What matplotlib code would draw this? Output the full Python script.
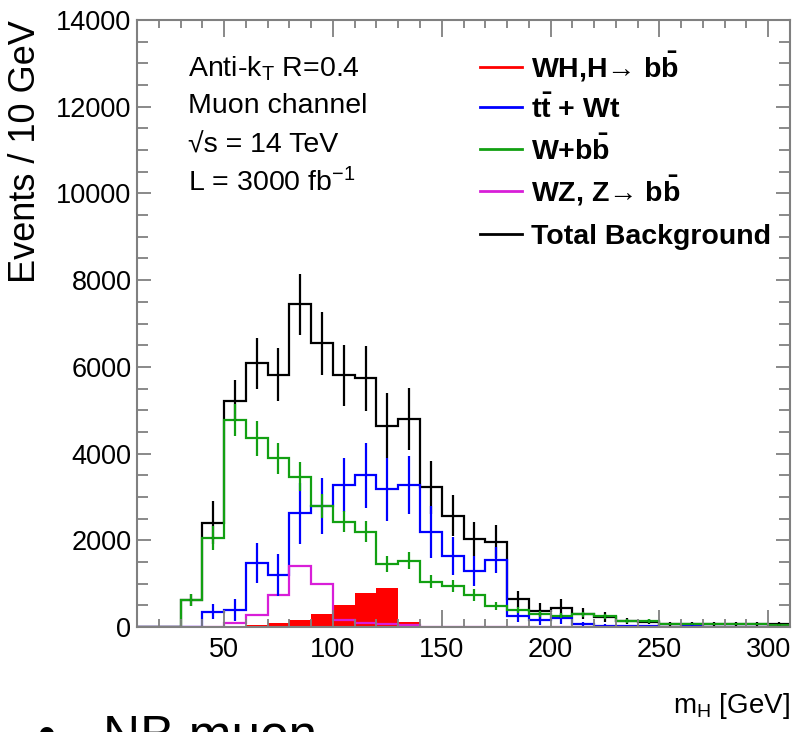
import numpy as np
import matplotlib
matplotlib.use("Agg")
import matplotlib.pyplot as plt
from matplotlib.ticker import MultipleLocator

plt.rcParams['font.family'] = ['Liberation Sans', 'DejaVu Sans']
plt.rcParams['mathtext.fontset'] = 'custom'
plt.rcParams['mathtext.rm'] = 'Liberation Sans'
plt.rcParams['mathtext.it'] = 'Liberation Sans:italic'
plt.rcParams['mathtext.bf'] = 'Liberation Sans:bold'

# m_H binning: 10 GeV bins from 10 to 310 GeV
edges = np.arange(10, 311, 10)
centers = edges[:-1] + 5

# WH, H->bb signal
wh_sig = [0, 0, 0, 0, 20, 50, 90, 170, 290, 510, 790, 890, 110,
          0, 0, 0, 0, 0, 0, 0, 0, 0, 0, 0, 0, 0, 0, 0, 0, 0]

# ttbar + Wt
ttbar = [0, 0, 0, 350, 390, 1470, 1200, 2620, 2790, 3275, 3500, 3175, 3275,
         2185, 1640, 1290, 1545, 250, 170, 200, 60, 30, 20, 20, 10,
         50, 10, 5, 5, 0]
ttbar_err = [0, 0, 0, 175, 250, 460, 480, 710, 650, 615, 750, 730, 670,
             600, 440, 345, 310, 140, 130, 130, 60, 40, 30, 30, 20,
             40, 20, 10, 10, 0]

# W+bb
wbb = [0, 0, 620, 2050, 4770, 4350, 3890, 3470, 2790, 2430, 2200, 1450, 1530,
       1045, 945, 740, 480, 400, 300, 260, 290, 245, 140, 135, 60,
       60, 60, 60, 60, 55]
wbb_err = [0, 0, 135, 270, 375, 400, 360, 325, 270, 250, 250, 190, 190,
           155, 135, 135, 95, 70, 60, 60, 60, 50, 40, 40, 25,
           25, 25, 25, 25, 25]

# WZ, Z->bb
wz = [0, 0, 0, 10, 90, 285, 730, 1407, 990, 160, 85, 60, 50,
      0, 0, 0, 0, 0, 0, 0, 0, 0, 0, 0, 0, 0, 0, 0, 0, 0]

# total background
total = [0, 0, 620, 2406, 5220, 6085, 5820, 7440, 6540, 5805, 5735, 4643, 4797,
         3221, 2568, 2030, 1968, 635, 375, 430, 310, 236, 138, 122, 62,
         80, 62, 62, 62, 60]
total_err = [0, 0, 135, 500, 480, 590, 615, 702, 717, 700, 745, 750, 710,
             615, 480, 385, 375, 200, 180, 218, 120, 120, 60, 60, 45,
             45, 45, 45, 45, 45]

c_sig = '#ff0000'
c_tt = '#0000ff'
c_wbb = '#12a012'
c_wz = '#d81ed8'
c_tot = '#000000'
lw = 1.6

fig = plt.figure(figsize=(7.94, 7.32), dpi=100)
ax = fig.add_axes([137/794, 1-627/732, 653/794, 607/732])

ax.stairs(wh_sig, edges, fill=True, color=c_sig, lw=0)
ax.stairs(total, edges, color=c_tot, lw=lw)
ax.errorbar(centers, total, yerr=total_err, fmt='none', ecolor=c_tot, elinewidth=lw)
ax.stairs(ttbar, edges, color=c_tt, lw=lw)
ax.errorbar(centers, ttbar, yerr=ttbar_err, fmt='none', ecolor=c_tt, elinewidth=lw)
ax.stairs(wbb, edges, color=c_wbb, lw=lw)
ax.errorbar(centers, wbb, yerr=wbb_err, fmt='none', ecolor=c_wbb, elinewidth=lw)
ax.stairs(wz, edges, color=c_wz, lw=lw)

ax.set_xlim(10, 310)
ax.set_ylim(0, 14000)
ax.xaxis.set_major_locator(MultipleLocator(50))
ax.xaxis.set_minor_locator(MultipleLocator(10))
ax.yaxis.set_major_locator(MultipleLocator(2000))
ax.yaxis.set_minor_locator(MultipleLocator(500))

axis_col = '#808080'
for sp in ax.spines.values():
    sp.set_color(axis_col)
    sp.set_linewidth(1.5)
ax.tick_params(which='both', direction='in', top=True, right=True,
               color=axis_col, width=1.3, labelsize=19.5)
ax.tick_params(axis='x', which='major', length=12, pad=7)
ax.tick_params(axis='x', which='minor', length=6)
ax.tick_params(axis='y', which='major', length=10, pad=4)
ax.tick_params(axis='y', which='minor', length=8)

fig.text(26/794, 1-20/732, "Events / 10 GeV", rotation=90,
         ha='center', va='top', fontsize=26)
fig.text(790/794, 1-706/732, r"m$_\mathrm{H}$ [GeV]", ha='right', va='center',
         fontsize=20)

# analysis info
info = [r"Anti-k$_\mathrm{T}$ R=0.4", "Muon channel", "\u221as = 14 TeV",
        r"L = 3000 fb$^\mathrm{-1}$"]
info_y = [0.907, 0.846, 0.781, 0.718]
for txt, yy in zip(info, info_y):
    ax.text(0.078, yy, txt, transform=ax.transAxes, fontsize=20.5,
            va='baseline', ha='left')

# legend drawn row by row
leg_labels = ["WH,H\u2192 b$\\mathbf{\\bar{b}}$",
              r"$\mathbf{t\bar{t}}$ + Wt",
              r"W+b$\mathbf{\bar{b}}$",
              "WZ, Z\u2192 b$\\mathbf{\\bar{b}}$",
              "Total Background"]
leg_colors = [c_sig, c_tt, c_wbb, c_wz, c_tot]
leg_y = [0.905, 0.839, 0.770, 0.701, 0.631]
for lab, col, yy in zip(leg_labels, leg_colors, leg_y):
    ax.plot([0.525, 0.590], [yy + 0.017, yy + 0.017], color=col, lw=2,
            transform=ax.transAxes, clip_on=False)
    ax.text(0.603, yy, lab, transform=ax.transAxes, fontsize=20.5,
            fontweight='bold', va='baseline', ha='left')

# slide bullet below the plot
fig.text(38/794, 1-713/732, "\u2022", fontsize=37, va='top')
fig.text(103/794, 1-713/732, "NB muon", fontsize=37, va='top')

fig.savefig("out.png", dpi=100)
